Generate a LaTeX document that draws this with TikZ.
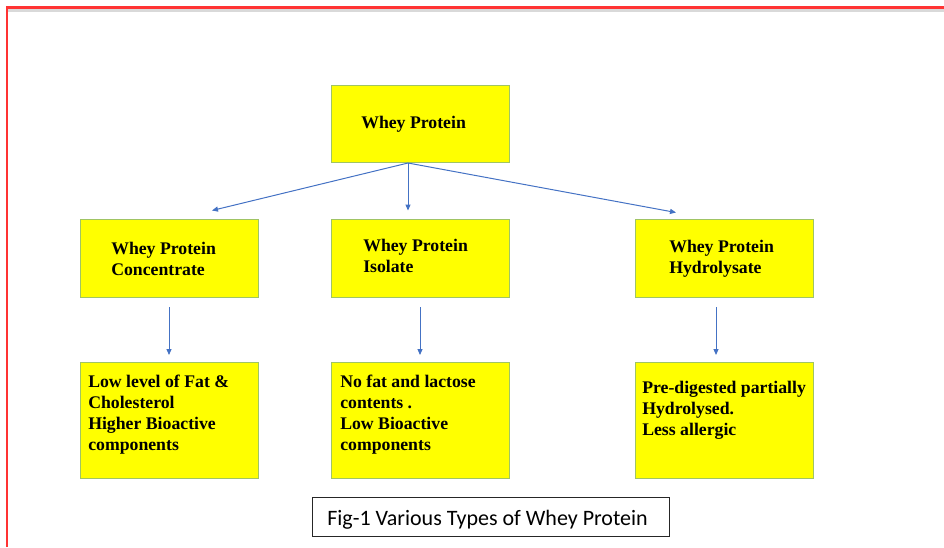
\documentclass[tikz,border=0pt]{standalone}
\usepackage{fontspec}
\setmainfont{Liberation Serif}
\newfontfamily\capfont{Carlito}
\usetikzlibrary{arrows.meta}
\definecolor{boxborder}{RGB}{160,196,100}
\definecolor{boxfill}{RGB}{255,255,0}
\definecolor{arrowblue}{RGB}{68,114,196}
\definecolor{framered}{RGB}{255,51,51}
\definecolor{framegray}{RGB}{217,217,217}
\tikzset{
  yellowbox/.style={draw=boxborder, line width=0.9pt, fill=boxfill, inner sep=0pt, anchor=north west},
  boxtext/.style={anchor=base west, inner sep=0pt, align=left, font=\fontsize{13.3pt}{15.75pt}\selectfont\bfseries},
  conn/.style={draw=arrowblue, line width=0.75pt, -{Triangle[length=4.5pt,width=3.8pt]}},
}
\begin{document}
\begin{tikzpicture}[x=0.75pt,y=-0.75pt]
\useasboundingbox (0,0) rectangle (944,547);
% page frame
\draw[framegray, line width=1.6pt] (8,10.5) -- (944,10.5);
\draw[framered, line width=1.6pt] (7,547) -- (7,7.5) -- (944,7.5);
% boxes
\node[yellowbox, minimum width=178*0.75pt, minimum height=77*0.75pt] (top) at (331,85) {};
\node[yellowbox, minimum width=178*0.75pt, minimum height=78*0.75pt] (wpc) at (80,219) {};
\node[yellowbox, minimum width=178*0.75pt, minimum height=78*0.75pt] (wpi) at (331,219) {};
\node[yellowbox, minimum width=178*0.75pt, minimum height=78*0.75pt] (wph) at (635,219) {};
\node[yellowbox, minimum width=178*0.75pt, minimum height=116*0.75pt] (lc) at (80,362) {};
\node[yellowbox, minimum width=178*0.75pt, minimum height=116*0.75pt] (li) at (331,362) {};
\node[yellowbox, minimum width=178*0.75pt, minimum height=116*0.75pt] (lh) at (635,362) {};
% texts (base anchor = baseline of last line)
\node[boxtext] (ttop) at (361,128) {Whey Protein};
\node[boxtext] (twpc) at (111,275.5) {Whey Protein\\Concentrate};
\node[boxtext] (twpi) at (363,272) {Whey Protein\\Isolate};
\node[boxtext] (twph) at (669,273) {Whey Protein\\Hydrolysate};
\node[boxtext] (tlc) at (88,450) {Low level of Fat \&\\Cholesterol\\Higher Bioactive\\components};
\node[boxtext] (tli) at (340,450) {No fat and lactose\\contents .\\Low Bioactive\\components};
\node[boxtext] (tlh) at (642,435) {Pre-digested partially\\Hydrolysed.\\Less allergic};
% connectors
\coordinate (src) at (408,163);
\coordinate (endc) at (212,210.5);
\coordinate (endi) at (408,210.5);
\coordinate (endh) at (676,212.5);
\draw[conn] (src) -- (endc);
\draw[conn] (src) -- (endi);
\draw[conn] (src) -- (endh);
\coordinate (sc) at (169,307);
\coordinate (ec) at (169,355);
\coordinate (si) at (420,307);
\coordinate (ei) at (420,355);
\coordinate (sh) at (716,307);
\coordinate (eh) at (716,355);
\draw[conn] (sc) -- (ec);
\draw[conn] (si) -- (ei);
\draw[conn] (sh) -- (eh);
% caption
\node[draw=black!85, line width=0.8pt, inner sep=0pt, anchor=north west, minimum width=357*0.75pt, minimum height=39*0.75pt] (cap) at (312,497) {};
\begin{scope}
\clip (312,497) rectangle (669,528);
\node[anchor=base west, inner sep=0pt, font=\capfont\fontsize{16.5pt}{19pt}\selectfont] (captext) at (327,525) {Fig-1 Various Types of Whey Protein};
\end{scope}
\end{tikzpicture}
\end{document}
